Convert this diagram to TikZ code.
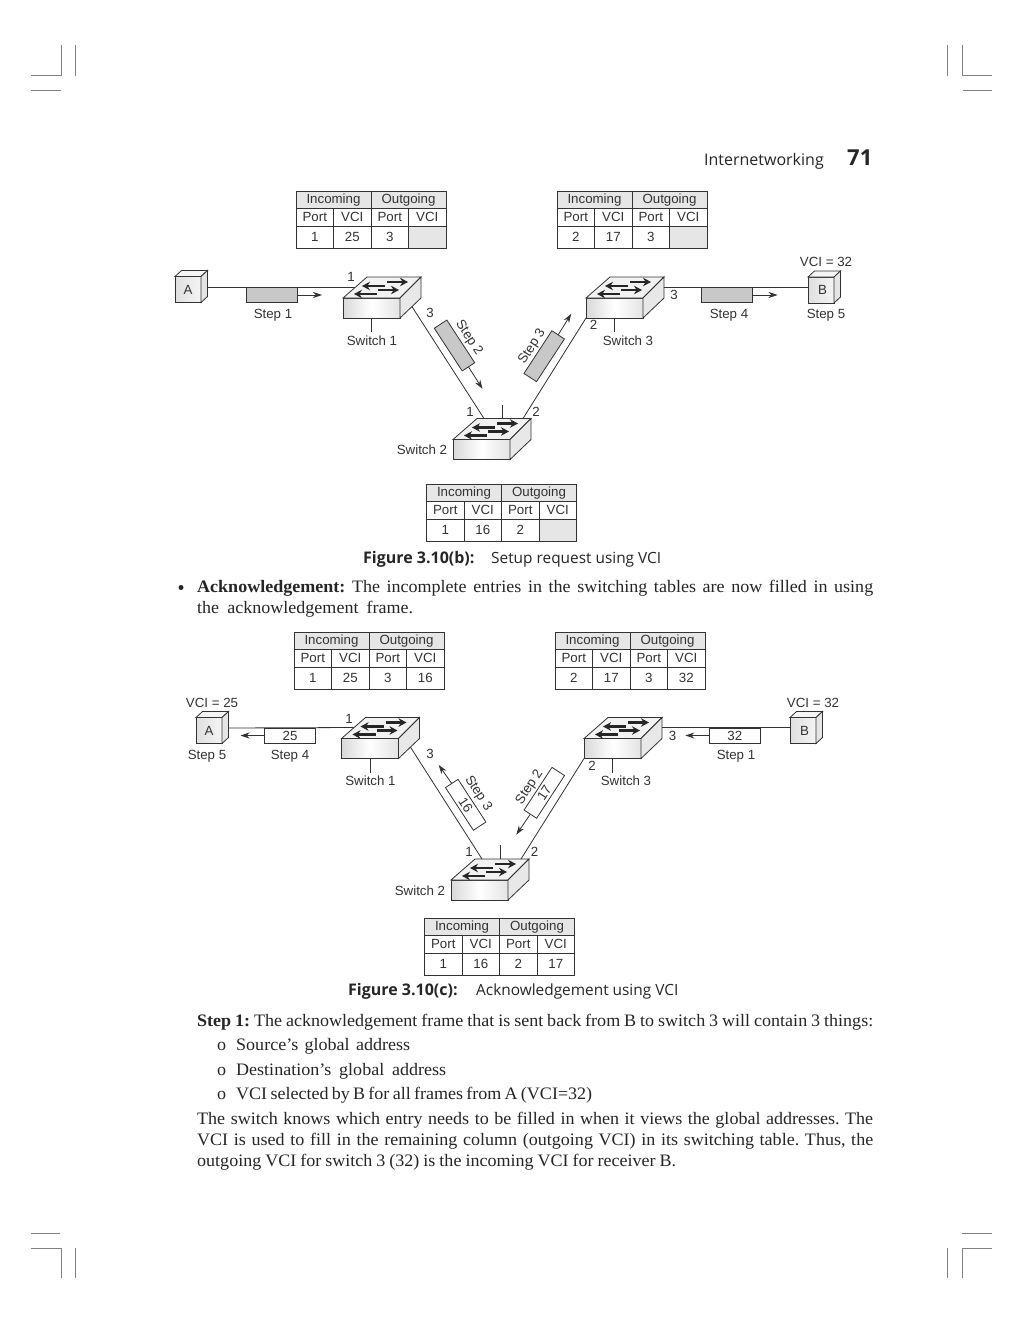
\documentclass[tikz,border=0pt]{standalone}
\usepackage{fontspec}
\setmainfont[FakeStretch=1.03]{Liberation Serif}
\newfontfamily\diagfont{Liberation Sans}
\newfontfamily\capfont{Open Sans}
\usetikzlibrary{arrows.meta,calc}
\definecolor{ink}{HTML}{333333}
\definecolor{hdr}{HTML}{E6E6E6}
\definecolor{pkt}{HTML}{C8C8C8}
\newcommand{\dfont}{\diagfont\fontsize{13.3}{15}\selectfont}
\tikzset{
  ln/.style={draw=ink,line width=0.8pt},
  lab/.style={font=\dfont,inner sep=0pt,text=ink,text height=9.5pt,text depth=0pt},
  crop/.style={draw=gray,line width=0.8pt},
  cellhead/.style={ln,fill=hdr,minimum width=75pt,minimum height=17.5pt,inner sep=0pt,outer sep=0pt,font=\dfont,text=ink},
  cellsub/.style={ln,minimum width=37.5pt,minimum height=17.5pt,inner sep=0pt,outer sep=0pt,font=\dfont,text=ink},
  cellval/.style={ln,minimum width=37.5pt,minimum height=22pt,inner sep=0pt,outer sep=0pt,font=\dfont,text=ink},
  swfront/.style={ln,minimum width=57pt,minimum height=20pt,inner sep=0pt,outer sep=0pt,left color=gray!30,right color=gray!22,middle color=white},
  cubefront/.style={ln,minimum width=26pt,minimum height=26pt,inner sep=0pt,outer sep=0pt,left color=gray!25,right color=gray!8,font=\dfont,text=ink},
  pack/.style={ln,minimum width=51pt,minimum height=15pt,inner sep=0pt,outer sep=0pt,font=\dfont,text=ink},
  fat/.style={line width=2.8pt,-{Stealth[length=8pt,width=8.5pt]},black!85},
  flow/.style={ln,-{Stealth[length=9pt,width=6pt]}},
  bodyt/.style={anchor=base west,inner sep=0pt,font=\frenchspacing\fontsize{17.5}{20}\selectfont,text=black!85},
  capb/.style={anchor=base west,inner sep=0pt,font=\capfont\bfseries\fontsize{16}{18}\selectfont,text=black!85},
  capn/.style={anchor=base west,inner sep=0pt,font=\capfont\fontsize{15.4}{18}\selectfont,text=black!85},
}
\newcommand{\swbox}[3]{%
  \node[swfront] (#1) at (#2+28.5,#3+10) {};
  \draw[ln,fill=gray!10] (#1.north west) -- ++(24,-21) -- ++(54,0) -- (#1.north east) -- cycle;
  \draw[ln,fill=gray!18] (#1.north east) -- ++(21,-21) -- ++(0,21) -- (#1.south east) -- cycle;
  \draw[fat] ($(#1.north west)+(42,-12)$) -- ++(-23,0);
  \draw[fat] ($(#1.north west)+(44,-16)$) -- ++(21,0);
  \draw[fat] ($(#1.north west)+(34,-4)$) -- ++(-23,0);
  \draw[fat] ($(#1.north west)+(35,-8)$) -- ++(21,0);
  \coordinate (#1l) at ($(#1.north west)+(12,-11)$);
  \coordinate (#1e) at ($(#1.north east)+(21,-11)$);
  \coordinate (#1r) at ($(#1.north west)+(69,8.7)$);
  \coordinate (#1a) at ($(#1.north west)+(31,-21)$);
  \coordinate (#1b) at ($(#1.north west)+(70,-21)$);
  \coordinate (#1t) at ($(#1.north west)+(49,-21)$);
}
\newcommand{\cubebox}[4]{%
  \node[cubefront] (#1) at (#2+13,#3+13) {#4};
  \draw[ln,fill=gray!8] (#1.north west) -- ++(6.5,-6) -- ++(26,0) -- (#1.north east) -- cycle;
  \draw[ln,fill=gray!20] (#1.north east) -- ++(6.5,-6) -- ++(0,26) -- (#1.south east) -- cycle;
  \coordinate (#1s) at ($(#1.north east)+(6.5,10.5)$);
}
\newcommand{\vcitab}[8]{%
  \node[cellhead] (#1ha) at (#2+37.5,#3+8.75) {Incoming};
  \node[cellhead] (#1hb) at (#2+112.5,#3+8.75) {Outgoing};
  \node[cellsub] (#1sa) at (#2+18.75,#3+26.25) {Port};
  \node[cellsub] (#1sb) at (#2+56.25,#3+26.25) {VCI};
  \node[cellsub] (#1sc) at (#2+93.75,#3+26.25) {Port};
  \node[cellsub] (#1sd) at (#2+131.25,#3+26.25) {VCI};
  \node[cellval] (#1va) at (#2+18.75,#3+46) {#4};
  \node[cellval] (#1vb) at (#2+56.25,#3+46) {#5};
  \node[cellval] (#1vc) at (#2+93.75,#3+46) {#6};
  \node[cellval,#8] (#1vd) at (#2+131.25,#3+46) {#7};
}
% a line of running text set to the reference's width
\newcommand{\txt}[5]{\node[bodyt] (#1) at (#2,#3) {\hbox to #4pt{#5}};}
\begin{document}
\begin{tikzpicture}[x=1pt,y=-1pt]
\useasboundingbox (0,0) rectangle (1023,1324);
\fill[white] (0,0) rectangle (1023,1324);
% crop marks
\draw[crop] (61,45) -- (61,75.5) -- (31,75.5);
\draw[crop] (75.5,45) -- (75.5,76);
\draw[crop] (31,90) -- (61,90);
\draw[crop] (947.5,45) -- (947.5,76);
\draw[crop] (962.5,45) -- (962.5,75.5) -- (992,75.5);
\draw[crop] (962.5,90) -- (992,90);
\draw[crop] (31,1233) -- (60,1233);
\draw[crop] (31,1248) -- (61,1248) -- (61,1278);
\draw[crop] (75.5,1248) -- (75.5,1278);
\draw[crop] (962,1233) -- (992,1233);
\draw[crop] (947.5,1248) -- (947.5,1278);
\draw[crop] (992,1248) -- (962.5,1248) -- (962.5,1278);
% running head
\node[anchor=base west,inner sep=0pt,font=\capfont\fontsize{16}{20}\selectfont,text=black!85] (runhead) at (704,165.5) {Internetworking};
\node[anchor=base west,inner sep=0pt,font=\capfont\bfseries\fontsize{22}{24}\selectfont,text=black!85] (pageno) at (847,165.5) {71};

% ===== Figure (b) =====
\vcitab{tba}{296}{191}{1}{25}{3}{}{fill=hdr}
\vcitab{tbb}{557}{191}{2}{17}{3}{}{fill=hdr}
\vcitab{tbc}{426.5}{484}{1}{16}{2}{}{fill=hdr}
\cubebox{Ab}{175}{276.5}{A}
\cubebox{Bb}{808}{277}{\hspace{3pt}B}
\swbox{Sa}{343}{298}
\swbox{Sc}{586}{298}
\swbox{Sb}{453}{439.5}
\draw[ln] (Abs) -- (Sal);
\draw[ln] (Sa.south) -- ++(0,14) coordinate (Sast);
\draw[ln] (Sc.south) -- ++(0,14) coordinate (Scst);
\draw[ln] (Sbt) -- ++(0,-14) coordinate (Sbst);
\draw[ln] (Sar) -- (Sba);
\draw[ln] (Sbb) -- (Sc.south west);
\draw[ln] (Sce) -- (Bb.west |- Sce);
\node[pack,fill=pkt] (pa) at (271.5,295) {};
\draw[flow] (pa.east) -- ++(25,0);
\node[pack,fill=pkt] (pd) at (727,295) {};
\draw[flow] (pd.east) -- ++(25,0);
\node[pack,fill=pkt,rotate=-56.8] (pb) at (454.5,345.5) {};
\draw[flow] (pb.east) -- ++(14,22);
\node[pack,fill=pkt,rotate=56.8] (pc) at (544.2,356.2) {};
\draw[flow] (pc.east) -- ++(13,-21);
\node[lab] (lb1) at (273,313.5) {Step 1};
\node[lab,rotate=-56.8] (lb2) at (470,337) {Step 2};
\node[lab,rotate=56.8] (lb3) at (531,346) {Step 3};
\node[lab] (lb4) at (729,313.5) {Step 4};
\node[lab] (lb5) at (826,313.5) {Step 5};
\node[lab] (lb6) at (826,261.5) {VCI = 32};
\node[lab] (lb7) at (372,340.5) {Switch 1};
\node[lab] (lb8) at (628,340.5) {Switch 3};
\node[lab] (lb9) at (422,449.5) {Switch 2};
\node[lab] (pt1) at (351,277) {1};
\node[lab] (pt2) at (430,312.5) {3};
\node[lab] (pt3) at (470,411.5) {1};
\node[lab] (pt4) at (536,411.5) {2};
\node[lab] (pt5) at (593.5,324.5) {2};
\node[lab] (pt6) at (674,294.5) {3};
% caption b
\node[capb] (capa) at (363,563) {Figure 3.10(b):};
\node[capn] (capb) at (491,563) {Setup request using VCI};

% bullet text
\fill[black!85] (181,587.5) circle (2.5);
\txt{t1}{197}{592}{676}{\textbf{Acknowledgement:} The incomplete entries in the switching tables are now filled in using}
\txt{t2}{197}{613}{216}{the acknowledgement frame.}

% ===== Figure (c) =====
\vcitab{tca}{294}{632}{1}{25}{3}{16}{}
\vcitab{tcb}{555}{632}{2}{17}{3}{32}{}
\vcitab{tcc}{424.5}{918}{1}{16}{2}{17}{}
\cubebox{Ac}{196}{717.5}{A}
\cubebox{Bc}{790}{717.5}{\hspace{3pt}B}
\swbox{Sd}{341.5}{738.5}
\swbox{Sf}{584}{738.5}
\swbox{Se}{451}{880}
\draw[ln] (Acs) -- (Sdl);
\draw[ln] (Sd.south) -- ++(0,14) coordinate (Sdst);
\draw[ln] (Sf.south) -- ++(0,14) coordinate (Sfst);
\draw[ln] (Set) -- ++(0,-14) coordinate (Sest);
\draw[ln] (Sdr) -- (Sea);
\draw[ln] (Seb) -- (Sf.south west);
\draw[ln] (Sfe) -- (Bc.west |- Sfe);
\node[pack,fill=white] (qa) at (290,735.5) {25};
\draw[flow] (qa.west) -- ++(-24,0);
\node[pack,fill=white] (qd) at (734.8,735.5) {32};
\draw[flow] (qd.west) -- ++(-24,0);
\node[pack,fill=white,rotate=-56.8] (qb) at (465.7,804.8) {16};
\draw[flow] (qb.west) -- ++(-13,-18.5);
\node[pack,fill=white,rotate=56.8] (qc) at (544.3,792.8) {17};
\draw[flow] (qc.west) -- ++(-14,20.5);
\node[lab] (lc1) at (290,755) {Step 4};
\node[lab] (lc2) at (207,755) {Step 5};
\node[lab] (lc3) at (212,702.5) {VCI = 25};
\node[lab] (lc4) at (736,755) {Step 1};
\node[lab] (lc5) at (813,702.5) {VCI = 32};
\node[lab,rotate=-56.8] (lc6) at (479.3,792.7) {Step 3};
\node[lab,rotate=56.8] (lc7) at (528.3,786.7) {Step 2};
\node[lab] (lc8) at (370.5,781) {Switch 1};
\node[lab] (lc9) at (626,781) {Switch 3};
\node[lab] (lc10) at (420,890.5) {Switch 2};
\node[lab] (ps1) at (349,718.5) {1};
\node[lab] (ps2) at (430,753.5) {3};
\node[lab] (ps3) at (469,851.5) {1};
\node[lab] (ps4) at (534.5,851.5) {2};
\node[lab] (ps5) at (592,765.5) {2};
\node[lab] (ps6) at (672.5,735.5) {3};
% caption c
\node[capb] (capc) at (348,995.5) {Figure 3.10(c):};
\node[capn] (capd) at (476,995.5) {Acknowledgement using VCI};

% body
\txt{t3}{197}{1026}{676}{\textbf{Step 1:} The acknowledgement frame that is sent back from B to switch 3 will contain 3 things:}
\node[bodyt] (o1) at (217,1050) {o};
\txt{t4}{236}{1050}{174}{Source’s global address}
\node[bodyt] (o2) at (217,1075) {o};
\txt{t5}{236}{1075}{210}{Destination’s global address}
\node[bodyt] (o3) at (217,1099) {o};
\txt{t6}{236}{1099}{356}{VCI selected by B for all frames from A (VCI=32)}
\txt{t7}{197}{1124}{676}{The switch knows which entry needs to be filled in when it views the global addresses. The}
\txt{t8}{197}{1145}{676}{VCI is used to fill in the remaining column (outgoing VCI) in its switching table. Thus, the}
\txt{t9}{197}{1166}{479}{outgoing VCI for switch 3 (32) is the incoming VCI for receiver B.}
\end{tikzpicture}
\end{document}
